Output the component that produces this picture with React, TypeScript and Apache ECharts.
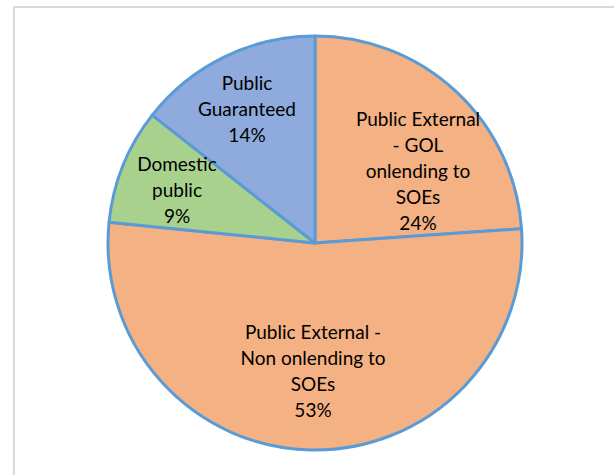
import React, { useEffect, useRef } from "react";
import * as echarts from "echarts";

const categories = [
  "Public External\n- GOL\nonlending to\nSOEs",
  "Public External -\nNon onlending to\nSOEs",
  "Domestic\npublic",
  "Public\nGuaranteed",
];
const shares = [23.9, 52.7, 9.0, 14.4];
const colors = ["#F4B183", "#F4B183", "#A9D18E", "#8FAADC"];
// label anchor positions (centre of each label block), px
const labelPos = [
  [418, 170],
  [313, 370],
  [177, 189],
  [247, 108],
];

export default function App() {
  const ref = useRef<HTMLDivElement>(null);
  useEffect(() => {
    document.body.style.margin = "0";
    const chart = echarts.init(ref.current!, null, { renderer: "svg" });
    const total = shares.reduce((a, b) => a + b, 0);
    chart.setOption({
      animation: false,
      backgroundColor: "#ffffff",
      graphic: [
        {
          type: "rect",
          shape: { x: 14, y: 7, width: 700, height: 600 },
          style: { fill: "none", stroke: "#d9d9d9", lineWidth: 2 },
          silent: true,
        },
      ],
      series: [
        {
          type: "pie",
          center: [315, 243],
          radius: 207,
          startAngle: 90,
          clockwise: true,
          avoidLabelOverlap: false,
          itemStyle: { borderColor: "#5B9BD5", borderWidth: 3 },
          label: {
            show: true,
            position: "inside",
            color: "#000000",
            fontFamily: "Lato",
            fontSize: 19,
            lineHeight: 26,
            align: "center",
            verticalAlign: "middle",
            formatter: (p: any) =>
              `${p.name}\n${Math.round((p.value / total) * 100)}%`,
          },
          labelLayout: (p: any) => ({
            x: labelPos[p.dataIndex][0],
            y: labelPos[p.dataIndex][1],
            align: "center",
            verticalAlign: "middle",
          }),
          emphasis: { disabled: true },
          data: categories.map((c, i) => ({
            name: c,
            value: shares[i],
            itemStyle: { color: colors[i] },
          })),
        },
      ],
    });
    return () => chart.dispose();
  }, []);
  return <div ref={ref} style={{ width: 614, height: 475 }} />;
}
